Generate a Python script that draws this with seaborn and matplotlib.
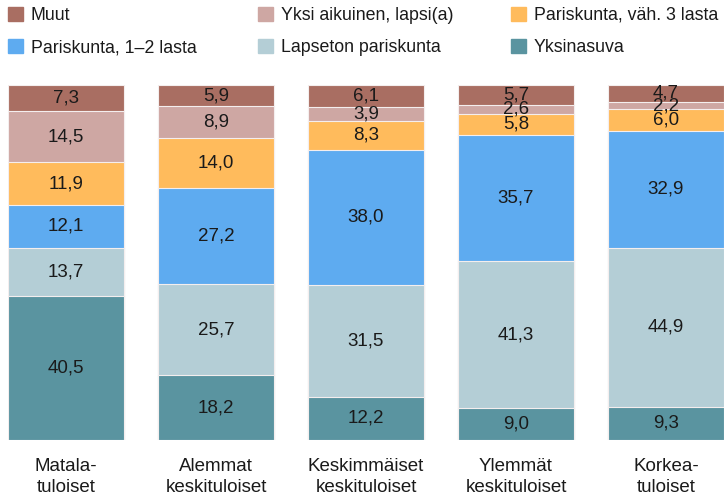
import seaborn as sns
import matplotlib.pyplot as plt
import matplotlib.patches as mpatches
import pandas as pd

groups = ["Matala-\ntuloiset", "Alemmat\nkeskituloiset", "Keskimmäiset\nkeskituloiset",
          "Ylemmät\nkeskituloiset", "Korkea-\ntuloiset"]

# segments from bottom to top
yksinasuva = [40.5, 18.2, 12.2, 9.0, 9.3]
lapseton = [13.7, 25.7, 31.5, 41.3, 44.9]
pari_1_2 = [12.1, 27.2, 38.0, 35.7, 32.9]
pari_3 = [11.9, 14.0, 8.3, 5.8, 6.0]
yksi_aikuinen = [14.5, 8.9, 3.9, 2.6, 2.2]
muut = [7.3, 5.9, 6.1, 5.7, 4.7]

series = ["Yksinasuva", "Lapseton pariskunta", "Pariskunta, 1–2 lasta",
          "Pariskunta, väh. 3 lasta", "Yksi aikuinen, lapsi(a)", "Muut"]
values = [yksinasuva, lapseton, pari_1_2, pari_3, yksi_aikuinen, muut]
colors = ["#5a94a0", "#b4ced6", "#5eabf0", "#ffbb5c", "#cea7a3", "#a96e62"]

sns.set_style("white")
plt.rcParams["font.family"] = ["Liberation Sans", "DejaVu Sans"]
text_color = "#1a1a1a"

df = pd.DataFrame(values, index=series, columns=groups).T
cum = df.cumsum(axis=1)

fig = plt.figure(figsize=(7.27, 4.97), dpi=100)
ax = fig.add_axes([8 / 727, 1 - 440 / 497, 716 / 727, 355 / 497])

# draw from the top layer down so lower segments cover upper ones
for name, color in reversed(list(zip(series, colors))):
    d = pd.DataFrame({"group": groups, "top": cum[name].values})
    sns.barplot(data=d, x="group", y="top", color=color, saturation=1,
                width=0.773, edgecolor="#f4eeee", linewidth=0.8, ax=ax)

for i, g in enumerate(groups):
    bottom = 0
    for name in series:
        v = df.loc[g, name]
        ax.text(i, bottom + v / 2, f"{v:.1f}".replace(".", ","), ha="center",
                va="center", fontsize=13.5, color=text_color)
        bottom += v

ax.set_xlim(-0.387, 4.387)
ax.set_ylim(0, 100)
ax.set_xlabel("")
ax.set_ylabel("")
ax.set_yticks([])
ax.tick_params(axis="x", length=0, pad=13, labelsize=13.5, labelcolor=text_color)
for lbl in ax.get_xticklabels():
    lbl.set_linespacing(1.3)
sns.despine(ax=ax, left=True, bottom=True)

# legend: three columns at fixed x positions, two rows each
legend_cols = [["Muut", "Pariskunta, 1–2 lasta"],
               ["Yksi aikuinen, lapsi(a)", "Lapseton pariskunta"],
               ["Pariskunta, väh. 3 lasta", "Yksinasuva"]]
col_x = [-3 / 727, 247 / 727, 500 / 727]
for names, x in zip(legend_cols, col_x):
    handles = [mpatches.Patch(color=colors[series.index(n)], label=n) for n in names]
    fig.legend(handles=handles, loc="upper left", bbox_to_anchor=(x, 1.0 + 4 / 497),
               frameon=False, fontsize=12.8, handlelength=0.85, handleheight=0.85,
               handletextpad=0.45, labelspacing=0.85, borderaxespad=0.2,
               labelcolor=text_color)

plt.savefig("out.png", dpi=100)
plt.close()
